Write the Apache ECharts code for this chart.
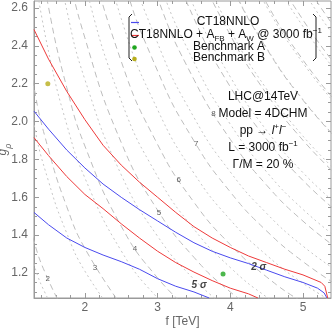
<!DOCTYPE html>
<html>
<head>
<meta charset="utf-8">
<script src="https://cdn.jsdelivr.net/npm/echarts@6/dist/echarts.min.js"></script>
<style>
html, body { margin: 0; padding: 0; background: #fff; }
#chart { width: 332px; height: 332px; }
</style>
</head>
<body>
<div id="chart"></div>
<script>
// axis ranges and ticks
const fRange = [1.3, 5.385];
const gRange = [1.068, 2.637];
const fTicks = [2, 3, 4, 5];
const fMinor = [1.4, 1.6, 1.8, 2.2, 2.4, 2.6, 2.8, 3.2, 3.4, 3.6, 3.8, 4.2, 4.4, 4.6, 4.8, 5.2];
const gTicks = [1.2, 1.4, 1.6, 1.8, 2.0, 2.2, 2.4, 2.6];
const gMinor = [1.1, 1.15, 1.25, 1.3, 1.35, 1.45, 1.5, 1.55, 1.65, 1.7, 1.75, 1.85, 1.9, 1.95,
  2.05, 2.1, 2.15, 2.25, 2.3, 2.35, 2.45, 2.5, 2.55];

// exclusion curves (f [TeV], g_rho)
const ctTwoSigma = [[1.30, 2.055], [1.50, 1.96], [1.75, 1.85], [2.0, 1.755], [2.25, 1.67], [2.5, 1.60],
  [2.75, 1.535], [3.0, 1.475], [3.25, 1.415], [3.5, 1.36], [3.75, 1.315], [4.0, 1.28], [4.25, 1.25],
  [4.5, 1.215], [4.75, 1.18], [5.0, 1.15], [5.2, 1.12], [5.29, 1.095], [5.33, 1.068]];
const afbTwoSigma = [[1.30, 2.486], [1.5, 2.33], [1.75, 2.16], [2.0, 2.01], [2.25, 1.875], [2.5, 1.77],
  [2.75, 1.68], [3.0, 1.60], [3.25, 1.52], [3.5, 1.445], [3.75, 1.385], [4.0, 1.335], [4.25, 1.29],
  [4.5, 1.255], [4.75, 1.22], [5.0, 1.19], [5.25, 1.15], [5.30, 1.13], [5.34, 1.068]];
const ctFiveSigma = [[1.30, 1.52], [1.5, 1.455], [1.75, 1.385], [2.0, 1.335], [2.25, 1.295], [2.5, 1.26],
  [2.75, 1.22], [3.0, 1.17], [3.25, 1.13], [3.5, 1.10], [3.71, 1.068]];
const afbFiveSigma = [[1.30, 1.915], [1.5, 1.82], [1.75, 1.71], [2.0, 1.615], [2.25, 1.54], [2.5, 1.46],
  [2.75, 1.385], [3.0, 1.315], [3.25, 1.255], [3.5, 1.205], [3.75, 1.16], [4.0, 1.12], [4.25, 1.09], [4.38, 1.068]];

const benchmarkA = [3.90, 1.195];
const benchmarkB = [1.49, 2.20];

// mass contours, long dashed (labelled ones pass through massLabelPos)
const massContours = [
  [[1.0, 1.851], [1.3, 1.369], [1.5, 1.161], [1.75, 0.973]],
  [[1.0, 2.951], [1.3, 2.183], [1.5, 1.851], [1.75, 1.551], [2.0, 1.330], [2.5, 1.029]],
  [[1.3, 3.07], [1.5, 2.604], [1.75, 2.181], [2.0, 1.871], [2.5, 1.447], [3.0, 1.174], [3.5, 0.983]],
  [[1.5, 3.399], [1.75, 2.847], [2.0, 2.442], [2.5, 1.889], [3.0, 1.532], [3.5, 1.283], [4.0, 1.100], [4.5, 0.961]],
  [[1.75, 3.493], [2.0, 2.996], [2.5, 2.318], [3.0, 1.879], [3.5, 1.574], [4.0, 1.350], [4.5, 1.179], [5.0, 1.044], [5.5, 0.936]],
  [[2.0, 3.614], [2.5, 2.796], [3.0, 2.267], [3.5, 1.898], [4.0, 1.628], [4.5, 1.422], [5.0, 1.260], [5.5, 1.129]],
  [[2.5, 3.273], [3.0, 2.654], [3.5, 2.222], [4.0, 1.906], [4.5, 1.664], [5.0, 1.474], [5.5, 1.322]],
  [[2.5, 3.748], [3.0, 3.039], [3.5, 2.545], [4.0, 2.183], [4.5, 1.906], [5.0, 1.689], [5.5, 1.514]],
  [[3.0, 3.421], [3.5, 2.865], [4.0, 2.457], [4.5, 2.146], [5.0, 1.901], [5.5, 1.704]],
  [[3.5, 3.184], [4.0, 2.731], [4.5, 2.385], [5.0, 2.113], [5.5, 1.894]],
  [[3.5, 3.504], [4.0, 3.005], [4.5, 2.625], [5.0, 2.325], [5.5, 2.084]],
  [[4.0, 3.279], [4.5, 2.864], [5.0, 2.537], [5.5, 2.274]],
  [[4.5, 3.103], [5.0, 2.749], [5.5, 2.464]],
  [[5.0, 2.961], [5.5, 2.655]]
];
// companion contours, fine dotted
const widthContours = [
  [[1.0, 1.684], [1.3, 1.246], [1.5, 1.057], [1.75, 0.885]],
  [[1.0, 2.685], [1.3, 1.986], [1.5, 1.684], [1.75, 1.411], [2.0, 1.210], [2.5, 0.936]],
  [[1.3, 2.794], [1.5, 2.370], [1.75, 1.985], [2.0, 1.702], [2.5, 1.317], [3.0, 1.068], [3.5, 0.894]],
  [[1.5, 3.093], [1.75, 2.591], [2.0, 2.222], [2.5, 1.719], [3.0, 1.394], [3.5, 1.167], [4.0, 1.001]],
  [[1.75, 3.179], [2.0, 2.726], [2.5, 2.109], [3.0, 1.710], [3.5, 1.432], [4.0, 1.229], [4.5, 1.073], [5.0, 0.950]],
  [[2.0, 3.289], [2.5, 2.544], [3.0, 2.063], [3.5, 1.727], [4.0, 1.481], [4.5, 1.294], [5.0, 1.146], [5.5, 1.028]],
  [[2.0, 3.849], [2.5, 2.978], [3.0, 2.415], [3.5, 2.022], [4.0, 1.734], [4.5, 1.515], [5.0, 1.342], [5.5, 1.203]],
  [[2.5, 3.410], [3.0, 2.765], [3.5, 2.315], [4.0, 1.986], [4.5, 1.734], [5.0, 1.536], [5.5, 1.377]],
  [[3.0, 3.113], [3.5, 2.607], [4.0, 2.236], [4.5, 1.953], [5.0, 1.730], [5.5, 1.551]],
  [[3.5, 2.898], [4.0, 2.485], [4.5, 2.171], [5.0, 1.923], [5.5, 1.724]],
  [[3.5, 3.189], [4.0, 2.735], [4.5, 2.389], [5.0, 2.116], [5.5, 1.897]],
  [[4.0, 2.984], [4.5, 2.607], [5.0, 2.309], [5.5, 2.070]],
  [[4.0, 3.234], [4.5, 2.824], [5.0, 2.502], [5.5, 2.243]],
  [[4.5, 3.041], [5.0, 2.694], [5.5, 2.415]]
];
const massLabels = ['2', '3', '4', '5', '6', '7', '8'];
const massLabelPos = [[1.49, 1.17], [2.14, 1.23], [2.69, 1.33], [3.02, 1.52], [3.29, 1.69], [3.53, 1.88], [3.77, 2.04]];

const sigmaLabels = ['2 σ', '5 σ'];
const sigmaLabelPos = [[4.39, 1.23], [3.57, 1.137]];

const FONT = 'Liberation Sans, Arial, sans-serif';
const BLUE = '#4a4aee';
const RED = '#ee3a3a';
const GREEN = '#1fa51f';
const OLIVE = '#b8ae1c';

const chart = echarts.init(document.getElementById('chart'));

function xAxisDef(pos, values, len, labels) {
  return {
    type: 'value', position: pos, min: fRange[0], max: fRange[1],
    axisLine: { show: labels, lineStyle: { color: '#9a9a9a' } },
    axisTick: { inside: true, length: len, customValues: values, lineStyle: { color: '#9a9a9a' } },
    axisLabel: { show: labels, customValues: values, color: '#666', fontSize: 12, fontFamily: FONT, margin: 4 },
    splitLine: { show: false },
    name: labels && pos === 'bottom' ? 'f [TeV]' : '',
    nameLocation: 'middle', nameGap: 18, nameMoveOverlap: false,
    nameTextStyle: { color: '#666', fontSize: 12, fontFamily: FONT }
  };
}
function yAxisDef(pos, values, len, labels) {
  return {
    type: 'value', position: pos, min: gRange[0], max: gRange[1],
    axisLine: { show: labels, lineStyle: { color: '#9a9a9a' } },
    axisTick: { inside: true, length: len, customValues: values, lineStyle: { color: '#9a9a9a' } },
    axisLabel: {
      show: labels, customValues: values, color: '#666', fontSize: 12, fontFamily: FONT, margin: 6,
      formatter: v => v.toFixed(1)
    },
    splitLine: { show: false },
    name: labels && pos === 'left' ? '{g|g}{s|ρ}' : '',
    nameLocation: 'middle', nameGap: 21, nameRotate: 90, nameMoveOverlap: false,
    nameTextStyle: {
      rich: {
        g: { color: '#666', fontSize: 12, fontFamily: FONT, fontStyle: 'italic', lineHeight: 16, verticalAlign: 'top' },
        s: { color: '#666', fontSize: 9, fontFamily: FONT, fontStyle: 'italic', lineHeight: 16, verticalAlign: 'bottom' }
      }
    }
  };
}

const series = [];
massContours.forEach(c => {
  series.push({
    type: 'line', data: c, smooth: true, symbol: 'none', silent: true, z: 1,
    lineStyle: { color: '#bdbdbd', width: 1, type: [6, 4] }
  });
});
widthContours.forEach(c => {
  series.push({
    type: 'line', data: c, smooth: true, symbol: 'none', silent: true, z: 1,
    lineStyle: { color: '#c6c6c6', width: 1, type: [2, 3] }
  });
});
series.push({
  type: 'scatter', symbolSize: 0, z: 3, silent: true,
  data: massLabelPos.map((p, i) => ({ value: p, name: massLabels[i] })),
  label: { show: true, position: 'inside', formatter: '{b}', color: '#333', fontSize: 8, fontFamily: FONT }
});
[[ctTwoSigma, BLUE], [afbTwoSigma, RED], [ctFiveSigma, BLUE], [afbFiveSigma, RED]].forEach(([d, col]) => {
  series.push({
    type: 'line', data: d, smooth: false, symbol: 'none', z: 4,
    lineStyle: { color: col, width: 1 }
  });
});
series.push({
  type: 'scatter', symbolSize: 0, z: 5, silent: true,
  data: sigmaLabelPos.map((p, i) => ({ value: p, name: sigmaLabels[i] })),
  label: { show: true, position: 'inside', formatter: '{b}', color: '#111', fontSize: 10, fontWeight: 'bold', fontStyle: 'italic', fontFamily: FONT }
});
series.push({ type: 'scatter', data: [benchmarkA], symbolSize: 5, itemStyle: { color: GREEN }, z: 6 });
series.push({ type: 'scatter', data: [benchmarkB], symbolSize: 5, itemStyle: { color: OLIVE }, z: 6 });

const legendX = 226;
const textStyle = { fill: '#111', fontSize: 12, fontFamily: FONT, align: 'center', verticalAlign: 'middle' };
const rich = {
  sub: { fontSize: 8, fontFamily: FONT, fill: '#111', verticalAlign: 'bottom', lineHeight: 16 },
  sup: { fontSize: 8, fontFamily: FONT, fill: '#111', verticalAlign: 'top', lineHeight: 16 },
  n: { fontSize: 12, fontFamily: FONT, fill: '#111', lineHeight: 16 },
  i: { fontSize: 12, fontFamily: FONT, fill: '#111', fontStyle: 'italic', lineHeight: 16 }
};

const graphic = [
  { type: 'polyline', shape: { points: [[132, 14], [129, 17], [129, 58], [132, 61]] }, style: { stroke: '#222', lineWidth: 1, fill: null }, z: 100 },
  { type: 'polyline', shape: { points: [[313, 14], [316, 17], [316, 58], [313, 61]] }, style: { stroke: '#222', lineWidth: 1, fill: null }, z: 100 },
  { type: 'line', shape: { x1: 131, y1: 22.5, x2: 139, y2: 22.5 }, style: { stroke: BLUE, lineWidth: 1.2 }, z: 100 },
  { type: 'line', shape: { x1: 131, y1: 35.5, x2: 139, y2: 35.5 }, style: { stroke: RED, lineWidth: 1.2 }, z: 100 },
  { type: 'circle', shape: { cx: 134.5, cy: 47.5, r: 2.3 }, style: { fill: GREEN }, z: 100 },
  { type: 'circle', shape: { cx: 134.5, cy: 59, r: 2.3 }, style: { fill: OLIVE }, z: 100 },
  { type: 'text', x: legendX + 2, y: 22, style: Object.assign({}, textStyle, { text: 'CT18NNLO' }), z: 100 },
  { type: 'text', x: legendX, y: 35, style: Object.assign({}, textStyle, {
      text: '{n|CT18NNLO + A}{sub|FB}{n| + A}{sub|W}{n| @ 3000 fb}{sup|−1}', rich: rich }), z: 100 },
  { type: 'text', x: legendX + 3, y: 46.5, style: Object.assign({}, textStyle, { text: 'Benchmark A' }), z: 100 },
  { type: 'text', x: legendX + 3, y: 58, style: Object.assign({}, textStyle, { text: 'Benchmark B' }), z: 100 },
  { type: 'text', x: 263, y: 97, style: Object.assign({}, textStyle, { text: 'LHC@14TeV' }), z: 100 },
  { type: 'text', x: 263, y: 114, style: Object.assign({}, textStyle, { text: 'Model = 4DCHM' }), z: 100 },
  { type: 'text', x: 263, y: 131, style: Object.assign({}, textStyle, {
      text: '{n|pp → }{i|l}{sup|+}{i|l}{sup|−}', rich: rich }), z: 100 },
  { type: 'text', x: 263, y: 148, style: Object.assign({}, textStyle, {
      text: '{n|L = 3000 fb}{sup|−1}', rich: rich }), z: 100 },
  { type: 'text', x: 263, y: 165, style: Object.assign({}, textStyle, { text: 'Γ/M = 20 %' }), z: 100 }
];

chart.setOption({
  animation: false,
  grid: { left: 34, right: 1, top: 1, bottom: 34, outerBoundsMode: 'none', show: true, borderColor: '#9a9a9a', borderWidth: 1 },
  xAxis: [
    xAxisDef('bottom', fTicks, 5, true),
    xAxisDef('bottom', fMinor, 3, false),
    xAxisDef('top', fTicks, 5, false),
    xAxisDef('top', fMinor, 3, false)
  ],
  yAxis: [
    yAxisDef('left', gTicks, 5, true),
    yAxisDef('left', gMinor, 3, false),
    yAxisDef('right', gTicks, 5, false),
    yAxisDef('right', gMinor, 3, false)
  ],
  series: series,
  graphic: graphic
});
</script>
</body>
</html>
